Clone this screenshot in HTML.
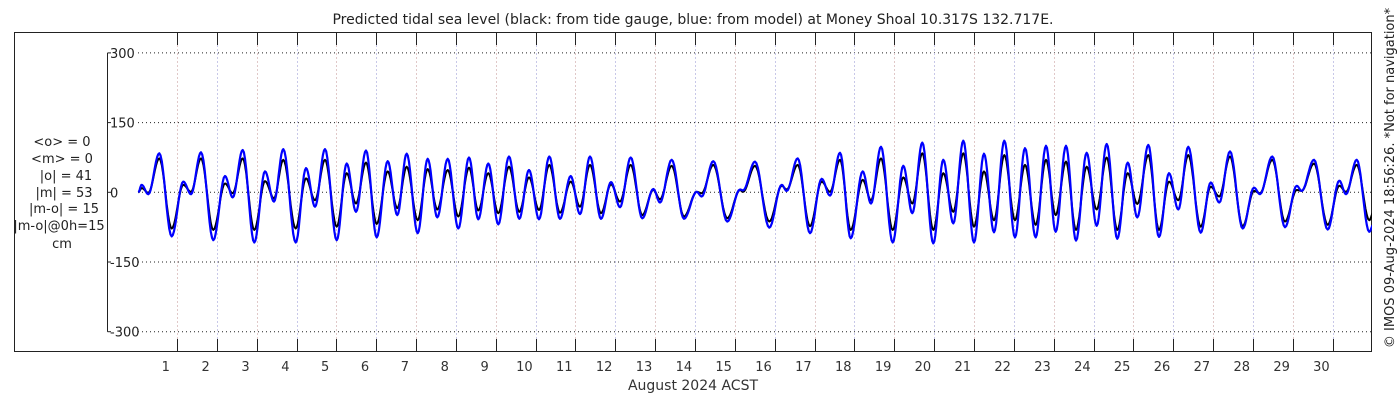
<!DOCTYPE html>
<html><head><meta charset="utf-8"><style>
html,body{margin:0;padding:0;background:#fff;}
svg{display:block;font-family:"DejaVu Sans","Liberation Sans",sans-serif;}
</style></head><body>
<svg id="chart" width="1400" height="400" viewBox="0 0 1400 400" xmlns="http://www.w3.org/2000/svg">
<rect x="0" y="0" width="1400" height="400" fill="#fff"/>
<text x="693" y="24" font-size="14" text-anchor="middle" fill="#222">Predicted tidal sea level (black: from tide gauge, blue: from model) at Money Shoal 10.317S 132.717E.</text>
<rect x="14.5" y="32.5" width="1357" height="319" fill="none" stroke="#222" stroke-width="1"/>
<g id="grid"></g>
<g id="yaxis"></g>
<g id="xaxis"></g>
<svg x="107" y="33" width="1265" height="318" viewBox="107 33 1265 318" overflow="hidden"><g id="series"></g></svg>
<g font-size="13" fill="#222" text-anchor="middle">
<text x="62" y="146">&lt;o&gt; = 0</text>
<text x="62" y="163">&lt;m&gt; = 0</text>
<text x="66" y="180">|o| = 41</text>
<text x="64" y="197">|m| = 53</text>
<text x="64" y="213">|m-o| = 15</text>
<text x="59" y="230">|m-o|@0h=15</text>
<text x="62" y="248">cm</text>
</g>
<text x="693" y="390" font-size="14" text-anchor="middle" fill="#333">August 2024 ACST</text>
<text transform="translate(1394,178) rotate(-90)" font-size="13" text-anchor="middle" fill="#222">© IMOS 09-Aug-2024 18:56:26. *Not for navigation*</text>
</svg>
<script>
const yTicks = [300, 150, 0, -150, -300];
const dayLabels = [1,2,3,4,5,6,7,8,9,10,11,12,13,14,15,16,17,18,19,20,21,22,23,24,25,26,27,28,29,30];
const extremaTimes = [0.03,0.115,0.28,0.557,0.868,1.159,1.353,1.604,1.912,2.206,2.399,2.65,2.941,3.21,3.435,3.669,3.98,4.238,4.464,4.715,5.009,5.26,5.493,5.744,6.013,6.289,6.529,6.765,7.041,7.292,7.533,7.794,8.06,8.329,8.562,8.813,9.064,9.332,9.591,9.834,10.085,10.344,10.612,10.881,11.114,11.365,11.641,11.892,12.118,12.387,12.677,12.954,13.122,13.415,13.724,14.043,14.168,14.459,14.81,15.129,15.204,15.506,15.864,16.176,16.301,16.577,16.886,17.179,17.388,17.639,17.907,18.208,18.416,18.667,18.961,19.227,19.453,19.704,19.98,20.231,20.482,20.733,21.001,21.252,21.503,21.762,22.03,22.281,22.549,22.808,23.051,23.31,23.561,23.829,24.08,24.331,24.597,24.858,25.099,25.375,25.643,25.895,26.128,26.379,26.69,26.941,27.157,27.425,27.744,28.027,28.178,28.487,28.805,29.099,29.224,29.533,29.877,30.168,30.336,30.605,30.921,31.02];
const modelValues = [0,16,-4,84,-95,23,-4,86,-103,35,-11,91,-108,45,-20,93,-108,52,-31,93,-103,62,-42,90,-97,67,-49,83,-88,72,-54,72,-78,75,-58,62,-69,77,-57,48,-58,77,-57,35,-47,77,-57,22,-32,75,-56,7,-22,70,-57,1,-9,67,-63,6,4,66,-76,16,3,73,-88,29,-7,85,-99,45,-24,98,-108,57,-45,107,-110,70,-67,111,-108,83,-86,111,-97,95,-97,100,-85,100,-104,85,-72,104,-100,64,-54,102,-96,41,-37,98,-87,21,-22,88,-78,10,-4,77,-75,14,3,70,-80,25,-4,70,-85,-70];
const gaugeValues = [0,9,-1,73,-78,16,1,73,-81,19,-2,73,-81,24,-13,70,-78,30,-17,70,-74,41,-24,64,-68,45,-34,55,-60,50,-37,48,-52,53,-39,41,-45,55,-42,32,-38,59,-44,23,-31,59,-45,17,-20,59,-49,5,-15,57,-52,1,-2,59,-56,5,1,57,-63,14,6,59,-73,23,1,70,-81,27,-17,73,-81,32,-24,84,-81,41,-42,84,-74,45,-60,80,-60,59,-70,70,-49,66,-81,55,-37,75,-81,41,-25,80,-81,23,-17,80,-74,12,-9,77,-73,3,-2,70,-63,5,3,62,-70,14,1,59,-60,-44];

const X0 = 137.1, DX = 39.85, Y0 = 192.3, DY = 69.7/150;
function xs(t){ return X0 + t*DX; }
function ys(v){ return Y0 - v*DY; }
const NS = 'http://www.w3.org/2000/svg';
function mk(tag, attrs, parent){ const e = document.createElementNS(NS, tag); for (const k in attrs) e.setAttribute(k, attrs[k]); parent.appendChild(e); return e; }

const grid = document.getElementById('grid');
const yaxis = document.getElementById('yaxis');
const xaxis = document.getElementById('xaxis');
const series = document.getElementById('series');

mk('line', {x1:107.5, y1:ys(300), x2:107.5, y2:ys(-300), stroke:'#222', 'stroke-width':1}, yaxis);
yTicks.forEach(v => {
  const y = ys(v);
  const gl = mk('line', {x1:138, y1:y, x2:1371, y2:y, stroke:'#222', 'stroke-width':1, 'stroke-dasharray':'1,3'}, grid);
  
  
  mk('line', {x1:107.5, y1:y, x2:111, y2:y, stroke:'#222', 'stroke-width':1}, yaxis);
  const tx = mk('text', {x:110, y:y+5, 'font-size':13, fill:'#222'}, yaxis);
  tx.textContent = String(v);
  
  
});

dayLabels.forEach(d => {
  const x = Math.round(xs(d)) + 0.5;
  const gl = mk('line', {x1:x, y1:45, x2:x, y2:339, stroke:(d%2? '#e0c8c8':'#c8c8e8'), 'stroke-width':1, 'stroke-dasharray':'2,2'}, grid);
  
  
  mk('line', {x1:x, y1:33, x2:x, y2:45, stroke:'#222', 'stroke-width':1}, xaxis);
  mk('line', {x1:x, y1:339, x2:x, y2:351, stroke:'#222', 'stroke-width':1}, xaxis);
  const tx = mk('text', {x:xs(d - 0.28), y:371, 'font-size':13, fill:'#333', 'text-anchor':'middle'}, xaxis);
  tx.textContent = String(d);
  
  
});

function curve(times, vals){
  let d = 'M' + xs(times[0]).toFixed(1) + ',' + ys(vals[0]).toFixed(1);
  for (let i = 0; i < times.length - 1; i++) {
    const n = 10;
    for (let k = 1; k <= n; k++) {
      const f = k / n, w = (1 - Math.cos(Math.PI * f)) / 2;
      const t = times[i] + (times[i+1] - times[i]) * f;
      const v = vals[i] + (vals[i+1] - vals[i]) * w;
      d += 'L' + xs(t).toFixed(1) + ',' + ys(v).toFixed(1);
    }
  }
  return d;
}
const g = mk('path', {d:curve(extremaTimes, gaugeValues), fill:'none', stroke:'#000', 'stroke-width':2, 'stroke-linejoin':'round'}, series);


const m = mk('path', {d:curve(extremaTimes, modelValues), fill:'none', stroke:'#0000ff', 'stroke-width':2.2, 'stroke-linejoin':'round'}, series);


</script>
</body></html>
